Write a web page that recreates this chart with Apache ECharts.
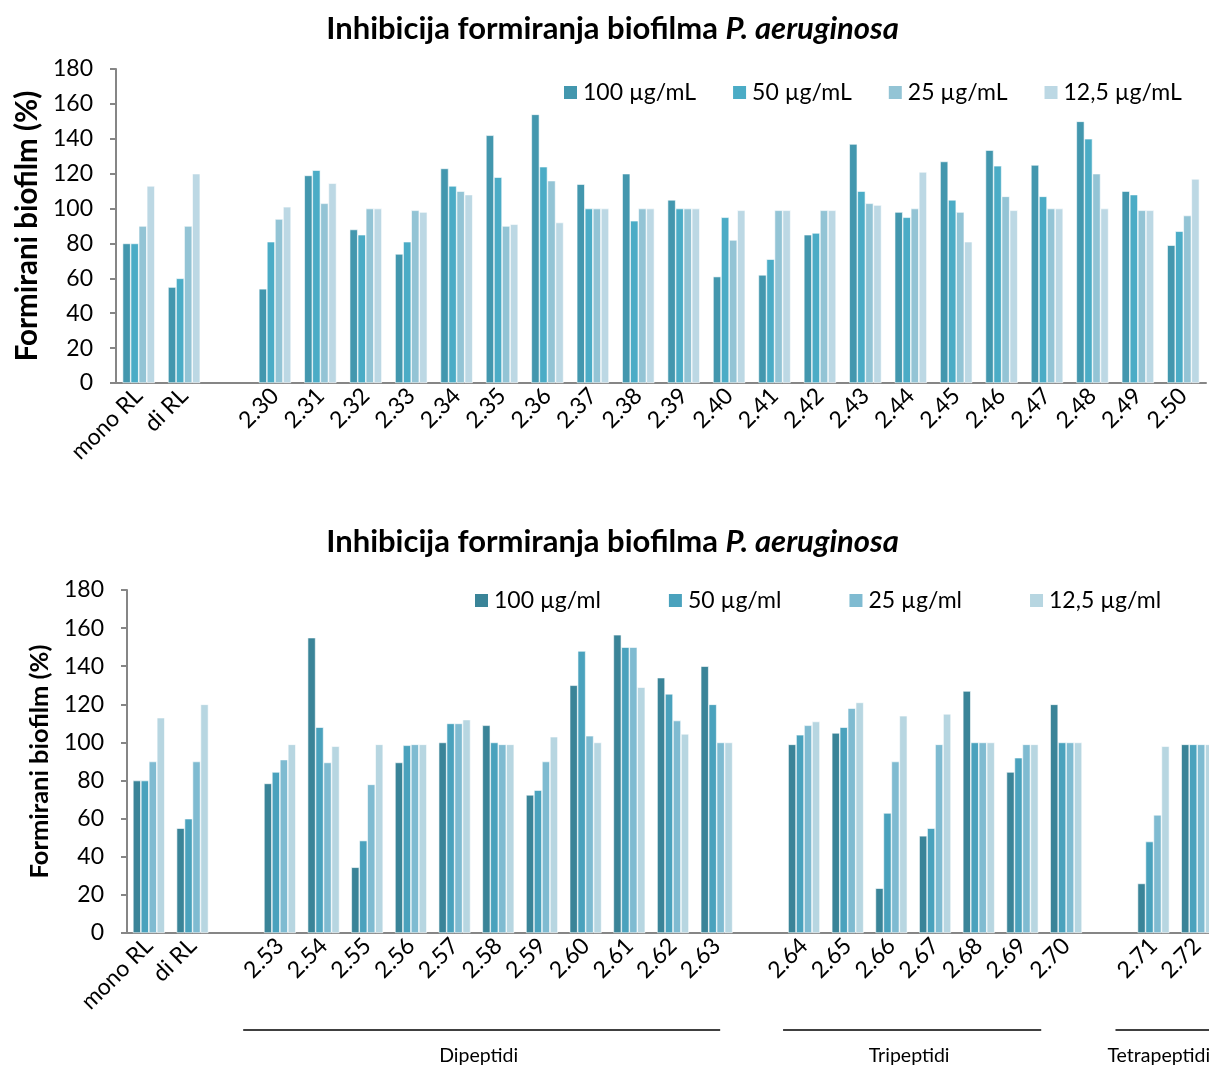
<!DOCTYPE html>
<html>
<head>
<meta charset="utf-8">
<script src="https://cdn.jsdelivr.net/npm/echarts@6/dist/echarts.min.js"></script>
<style>
html, body { margin: 0; padding: 0; background: #fff; overflow: hidden; }
#main { width: 1225px; height: 1067px; }
</style>
</head>
<body>
<div id="main"></div>
<script>
var myChart = echarts.init(document.getElementById('main'));

// top chart
var catsTop = ['mono RL', 'di RL', '', '2.30', '2.31', '2.32', '2.33', '2.34', '2.35', '2.36', '2.37', '2.38',
    '2.39', '2.40', '2.41', '2.42', '2.43', '2.44', '2.45', '2.46', '2.47', '2.48', '2.49', '2.50'];
var top100 = [80, 55, null, 54, 119, 88, 74, 123, 142, 154, 114, 120, 105, 61, 62, 85, 137, 98, 127, 133.5, 125, 150, 110, 79];
var top50 = [80, 60, null, 81, 122, 85, 81, 113, 118, 124, 100, 93, 100, 95, 71, 86, 110, 95, 105, 124.5, 107, 140, 108, 87];
var top25 = [90, 90, null, 94, 103, 100, 99, 110, 90, 116, 100, 100, 100, 82, 99, 99, 103, 100, 98, 107, 100, 120, 99, 96];
var top12 = [113, 120, null, 101, 114.5, 100, 98, 108, 91, 92, 100, 100, 100, 99, 99, 99, 102, 121, 81, 99, 100, 100, 99, 117];
var namesTop = ['100 µg/mL', '50 µg/mL', '25 µg/mL', '12,5 µg/mL'];

// bottom chart
var catsBot = ['mono RL', 'di RL', '', '2.53', '2.54', '2.55', '2.56', '2.57', '2.58', '2.59', '2.60', '2.61', '2.62', '2.63',
    '', '2.64', '2.65', '2.66', '2.67', '2.68', '2.69', '2.70', '', '2.71', '2.72'];
var bot100 = [80, 55, null, 78.5, 155, 34.5, 89.5, 100, 109, 72.5, 130, 156.5, 134, 140, null, 99, 105, 23.5, 51, 127, 84.5, 120, null, 26, 99];
var bot50 = [80, 60, null, 84.5, 108, 48.5, 98.5, 110, 100, 75, 148, 150, 125.5, 120, null, 104, 108, 63, 55, 100, 92, 100, null, 48, 99];
var bot25 = [90, 90, null, 91, 89.5, 78, 99, 110, 99, 90, 103.5, 150, 111.5, 100, null, 109, 118, 90, 99, 100, 99, 100, null, 62, 99];
var bot12 = [113, 120, null, 99, 98, 99, 99, 112, 99, 103, 100, 129, 104.5, 100, null, 111, 121, 114, 115, 100, 99, 100, null, 98, 99];
var namesBot = ['100 µg/ml', '50 µg/ml', '25 µg/ml', '12,5 µg/ml'];

var yTicks = [0, 20, 40, 60, 80, 100, 120, 140, 160, 180];

// peptide groups under the bottom axis, span given in category units (0 = left edge of first band)
var groups = [
    { name: 'Dipeptidi', from: 2.66, to: 13.58 },
    { name: 'Tripeptidi', from: 15.02, to: 20.93 },
    { name: 'Tetrapeptidi', from: 22.63, to: 25.5 }
];

var colorsTop = ['#4397ae', '#4bacc6', '#93c4d5', '#bcd8e4'];
var colorsBot = ['#3a8498', '#4aa2bd', '#7fbbd1', '#b7d6e1'];

var axisGray = '#868686';
var font = 'Lato, "Open Sans", sans-serif';

function xAxisFor(idx, cats) {
    return {
        type: 'category',
        gridIndex: idx,
        data: cats,
        axisLine: { lineStyle: { color: axisGray, width: 2 } },
        axisTick: { length: 6, lineStyle: { color: axisGray, width: 2 } },
        axisLabel: {
            interval: 0,
            rotate: 45,
            margin: 9,
            fontSize: 23,
            fontFamily: font,
            color: '#000'
        }
    };
}

function yAxisFor(idx, nameSize, nameGap) {
    return {
        type: 'value',
        gridIndex: idx,
        min: 0,
        max: 180,
        interval: 20,
        name: 'Formirani biofilm (%)',
        nameLocation: 'middle',
        nameGap: nameGap,
        nameTextStyle: { fontSize: nameSize, fontWeight: 'bold', fontFamily: font, color: '#000' },
        axisLine: { show: true, lineStyle: { color: axisGray, width: 2 } },
        axisTick: { show: true, length: 6, lineStyle: { color: axisGray, width: 2 } },
        splitLine: { show: false },
        axisLabel: {
            fontSize: 23,
            fontFamily: font,
            color: '#000',
            margin: 23,
            formatter: function (v) { return yTicks.indexOf(v) >= 0 ? String(v) : ''; }
        }
    };
}

function barSeries(name, data, color, idx, gap) {
    return {
        type: 'bar',
        name: name,
        xAxisIndex: idx,
        yAxisIndex: idx,
        data: data,
        barGap: '0%',
        barCategoryGap: gap,
        itemStyle: { color: color, borderColor: '#ffffff', borderWidth: 0.6 }
    };
}

var topData = [top100, top50, top25, top12];
var botData = [bot100, bot50, bot25, bot12];
var series = [];
for (var i = 0; i < 4; i++) series.push(barSeries(namesTop[i], topData[i], colorsTop[i], 0, '29%'));
for (var j = 0; j < 4; j++) series.push(barSeries(namesBot[j], botData[j], colorsBot[j], 1, '27%'));

var titleRich = {
    b: { fontSize: 31, fontWeight: 'bold', fontFamily: font, color: '#000' },
    i: { fontSize: 31, fontWeight: 'bold', fontStyle: 'italic', fontFamily: font, color: '#000' }
};
var titleText = '{b|Inhibicija formiranja biofilma }{i|P. aeruginosa}';

function legendFor(names, left, top, gap) {
    return {
        data: names,
        left: left,
        top: top,
        padding: 0,
        itemWidth: 15,
        itemHeight: 15,
        itemGap: gap,
        icon: 'rect',
        textStyle: { fontSize: 23, fontFamily: font, color: '#000' }
    };
}

var option = {
    backgroundColor: '#fff',
    animation: false,
    title: [
        { text: titleText, left: 'center', top: 13, padding: 0, textStyle: { rich: titleRich } },
        { text: titleText, left: 'center', top: 526, padding: 0, textStyle: { rich: titleRich } }
    ],
    legend: [
        legendFor(namesTop, 562, 81, 35),
        legendFor(namesBot, 473, 589, 66)
    ],
    grid: [
        { left: 116, right: 19, top: 69, bottom: 684 },
        { left: 127, right: 6, top: 590, bottom: 134 }
    ],
    xAxis: [xAxisFor(0, catsTop), xAxisFor(1, catsBot)],
    yAxis: [yAxisFor(0, 29.5, 70), yAxisFor(1, 25.5, 73)],
    series: series
};

myChart.setOption(option);

// group brackets, placed from the bottom category axis
var p0 = myChart.convertToPixel({ xAxisIndex: 1 }, 0);
var step = myChart.convertToPixel({ xAxisIndex: 1 }, 1) - p0;
function unitToPx(u) { return p0 - step / 2 + u * step; }
var graphics = [];
groups.forEach(function (g) {
    var x1 = unitToPx(g.from);
    var x2 = unitToPx(g.to);
    var last = g.to > catsBot.length;
    graphics.push({
        type: 'line',
        shape: { x1: x1, y1: 1030, x2: x2, y2: 1030 },
        style: { stroke: '#000', lineWidth: 1.5 }
    });
    graphics.push({
        type: 'text',
        x: last ? x1 - 8 : (x1 + x2) / 2 - 3,
        y: 1056,
        style: {
            text: g.name,
            fontSize: 19.5,
            fontFamily: font,
            fill: '#000',
            align: last ? 'left' : 'center',
            verticalAlign: 'middle'
        }
    });
});
myChart.setOption({ graphic: graphics });
</script>
</body>
</html>
